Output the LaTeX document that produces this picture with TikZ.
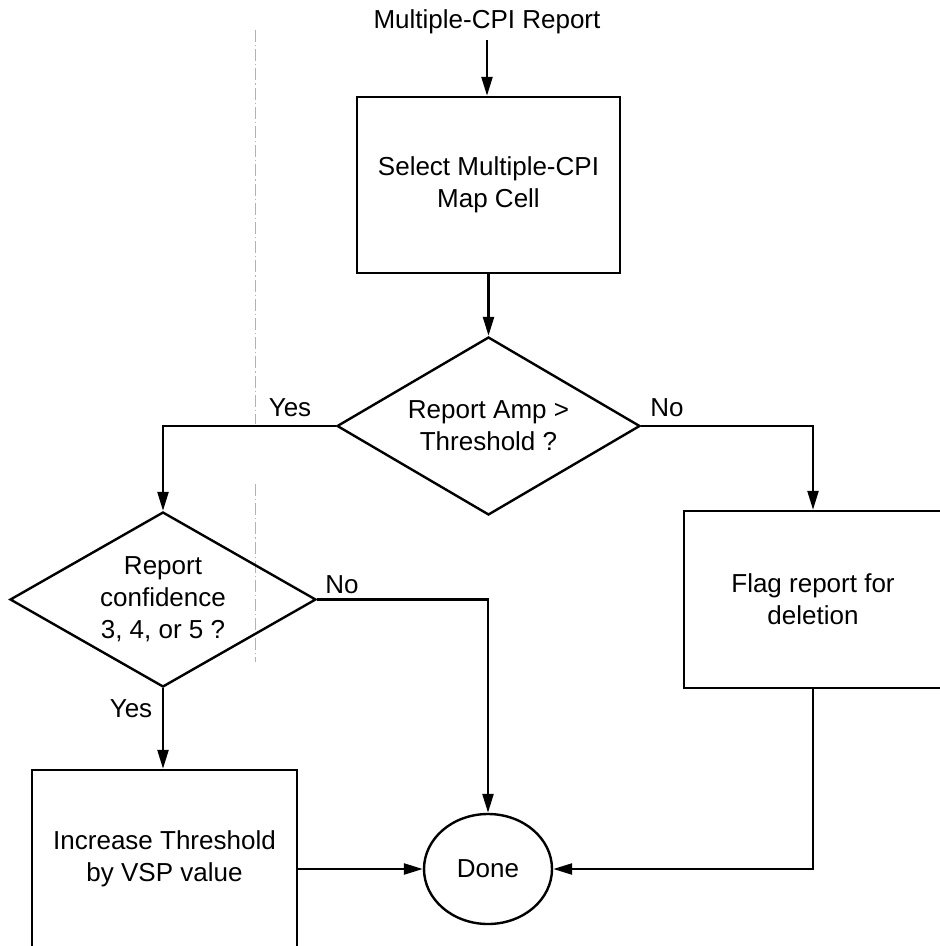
\documentclass[tikz,border=0pt]{standalone}
\usepackage{fontspec}
\setmainfont{Liberation Sans}
\usetikzlibrary{shapes.geometric,arrows.meta}
\begin{document}
\begin{tikzpicture}[x=0.5pt,y=-0.5pt,
  every node/.style={font=\fontsize{13pt}{16pt}\selectfont, align=center},
  procbox/.style={draw, line width=1.2pt, rectangle, inner sep=0pt},
  decbox/.style={draw, line width=1.2pt, diamond, inner sep=0pt},
  endbox/.style={draw, line width=1.2pt, ellipse, inner sep=0pt, minimum width=64pt, minimum height=55pt},
  conn/.style={line width=1.2pt, -{Triangle[length=9.5pt,width=5.5pt]}},
  lbl/.style={inner sep=0pt},
  fold/.style={draw=gray!60, line width=0.4pt, dash pattern=on 6pt off 1.5pt on 0.6pt off 1.5pt}
]
\useasboundingbox (0,0) rectangle (940,946);
\clip (0,0) rectangle (940,946);

% faint scan fold line
\coordinate (f1) at (255,30);
\coordinate (f2) at (255,424);
\coordinate (f3) at (255,484);
\coordinate (f4) at (255,662);
\draw[fold] (f1) -- (f2);
\draw[fold] (f3) -- (f4);

\node[lbl] (title) at (487,22) {Multiple-CPI Report};
\node[procbox, minimum width=131.5pt, minimum height=88pt] (sel) at (488.5,185) {Select Multiple-CPI\\Map Cell};
\node[decbox, shape aspect=1.7, minimum width=151.5pt, minimum height=89pt] (d1) at (488.5,426) {Report Amp >\\Threshold ?};
\node[decbox, shape aspect=1.75, minimum width=153pt, minimum height=87.5pt] (d2) at (163,599.5) {Report\\confidence\\3, 4, or 5 ?};
\node[procbox, minimum width=129pt, minimum height=88.5pt] (flag) at (813,599.5) {Flag report for\\deletion};
\node[procbox, minimum width=132.5pt, minimum height=89pt] (inc) at (164.5,859) {Increase Threshold\\by VSP value};
\node[endbox] (done) at (488,869) {Done};

\node[lbl] (yes1) at (290,408) {Yes};
\node[lbl] (no1) at (667,408) {No};
\node[lbl] (no2) at (342,585) {No};
\node[lbl] (yes2) at (131,709) {Yes};

\coordinate (tstart) at (487,40);
\draw[conn] (tstart) -- (sel.north -| tstart);
\draw[conn] (sel.south -| d1.north) -- (d1.north);
\draw[conn] (d1.west) -- (d2.north |- d1.west) -- (d2.north);
\draw[conn] (d1.east) -- (flag.north |- d1.east) -- (flag.north);
\draw[conn] (d2.east) -- (done.north |- d2.east) -- (done.north);
\draw[conn] (d2.south) -- (inc.north -| d2.south);
\draw[conn] (inc.east |- done.west) -- (done.west);
\draw[conn] (flag.south) -- (flag.south |- done.east) -- (done.east);
\end{tikzpicture}
\end{document}
